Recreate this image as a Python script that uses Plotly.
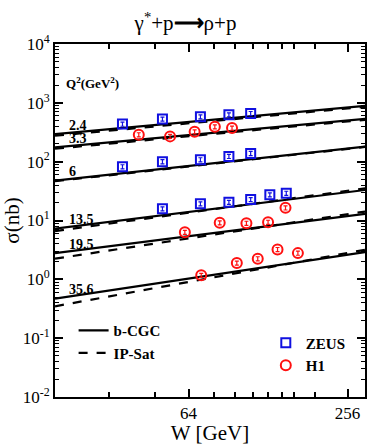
import math
import plotly.graph_objects as go

# Q^2 values (GeV^2) for the curves
q2_labels = ['2.4', '3.3', '6', '13.5', '19.5', '35.6']

# model curves, read at the left / right edges of the plot
w_line = [20, 298]
bcgc = {
    '2.4': [294, 889],
    '3.3': [175, 535],
    '6': [47.6, 180],
    '13.5': [7.3, 33],
    '19.5': [2.79, 13.0],
    '35.6': [0.471, 2.90],
}
ipsat = {
    '2.4': [276, 855],
    '3.3': [166, 515],
    '6': [46.5, 178],
    '13.5': [6.6, 35.2],
    '19.5': [2.24, 14.2],
    '35.6': [0.348, 3.18],
}

# ZEUS data
zeus_w = {
    '2.4': [36, 51, 71, 91, 110],
    '6': [36, 51, 71, 91, 110],
    '13.5': [51, 71, 91, 110, 130, 150],
}
zeus_sigma = {
    '2.4': [435, 530, 580, 627, 659],
    '6': [82, 100, 108, 123, 138],
    '13.5': [15.8, 19.2, 20.4, 22.7, 27.3, 29.1],
}

# H1 data
h1_w = {
    '3.3': [41.5, 54.5, 67.5, 80.5, 93.5],
    '19.5': [62, 84, 106, 128, 149],
    '35.6': [71.5, 97.5, 117, 139, 166],
}
h1_sigma = {
    '3.3': [287, 269, 322, 392, 372],
    '19.5': [6.3, 9.15, 9.0, 9.35, 16.4],
    '35.6': [1.17, 1.89, 2.24, 3.22, 2.79],
}

serif = 'Liberation Serif'
fig = go.Figure()

for i, q in enumerate(q2_labels):
    fig.add_trace(go.Scatter(
        x=w_line, y=ipsat[q], mode='lines',
        line=dict(color='black', width=2.2, dash='dash'),
        name='IP-Sat', legend='legend', showlegend=(i == 0),
        legendrank=2,
    ))
    fig.add_trace(go.Scatter(
        x=w_line, y=bcgc[q], mode='lines',
        line=dict(color='black', width=2.2),
        name='b-CGC', legend='legend', showlegend=(i == 0),
        legendrank=1,
    ))

for i, q in enumerate(zeus_w):
    fig.add_trace(go.Scatter(
        x=zeus_w[q], y=zeus_sigma[q], mode='markers',
        marker=dict(symbol='square-open', size=9, color='#1010e0',
                    line=dict(width=2)),
        error_y=dict(type='percent', value=8, color='#1010e0',
                     thickness=1.2, width=2),
        name='ZEUS', legend='legend2', showlegend=(i == 0),
        legendrank=1,
    ))

for i, q in enumerate(h1_w):
    fig.add_trace(go.Scatter(
        x=h1_w[q], y=h1_sigma[q], mode='markers',
        marker=dict(symbol='circle-open', size=10, color='#ff1010',
                    line=dict(width=2)),
        error_y=dict(type='percent', value=8, color='#ff1010',
                     thickness=1.2, width=2),
        name='H1', legend='legend2', showlegend=(i == 0),
        legendrank=2,
    ))

# Q^2 labels just above each curve at the left edge
for q in q2_labels:
    fig.add_annotation(
        x=0.04, xref='paper', xanchor='left',
        y=math.log10(bcgc[q][0]) + 0.15, yref='y', yanchor='middle',
        text=q, showarrow=False,
        font=dict(family=serif, size=14, color='black', weight='bold'),
    )

fig.add_annotation(
    x=0.03, xref='paper', xanchor='left',
    y=0.89, yref='paper', yanchor='middle',
    text='Q<sup>2</sup>(GeV<sup>2</sup>)', showarrow=False,
    font=dict(family=serif, size=13, color='black', weight='bold'),
)

ytick_vals = [10.0 ** k for k in range(-2, 5)]
ytick_text = ['10<sup>%d</sup>' % k for k in range(-2, 5)]
y_minor = [m * 10.0 ** k for k in range(-2, 4) for m in range(2, 10)]

fig.update_layout(
    width=371, height=445,
    margin=dict(l=52, r=4, t=44, b=48),
    plot_bgcolor='white', paper_bgcolor='white',
    font=dict(family=serif, color='black'),
    title=dict(text='γ<sup>*</sup>+p<b>⟶</b>ρ+p', x=0.5, xanchor='center',
               y=0.948, yanchor='middle',
               font=dict(family=serif, size=21, color='black')),
    xaxis=dict(
        type='log', range=[1.301, 2.474],
        tickvals=[64, 256], ticktext=['64', '256'],
        ticks='inside', ticklen=8, tickwidth=1.5, tickcolor='black',
        minor=dict(tickvals=[32, 48, 80, 96, 112, 128, 144, 160, 192],
                   ticks='inside', ticklen=5, tickwidth=1.5,
                   tickcolor='black', showgrid=False),
        showline=True, linecolor='black', linewidth=2, mirror='allticks',
        showgrid=False, zeroline=False,
        tickfont=dict(family=serif, size=17),
        title=dict(text='W [GeV]', font=dict(family=serif, size=21),
                   standoff=2),
    ),
    yaxis=dict(
        type='log', range=[-2, 4],
        tickvals=ytick_vals, ticktext=ytick_text,
        ticks='inside', ticklen=8, tickwidth=2, tickcolor='black',
        minor=dict(tickvals=y_minor, ticks='inside', ticklen=4,
                   tickwidth=1.2, tickcolor='black', showgrid=False),
        showline=True, linecolor='black', linewidth=2, mirror='allticks',
        showgrid=False, zeroline=False,
        tickfont=dict(family=serif, size=17),
        title=dict(text='σ(nb)', font=dict(family=serif, size=21),
                   standoff=4),
    ),
    legend=dict(
        x=0.06, y=0.235, xanchor='left', yanchor='top',
        bgcolor='rgba(0,0,0,0)', borderwidth=0,
        font=dict(family=serif, size=15, color='black', weight='bold'),
        itemwidth=30, tracegroupgap=0,
    ),
    legend2=dict(
        x=0.68, y=0.2, xanchor='left', yanchor='top',
        bgcolor='rgba(0,0,0,0)', borderwidth=0,
        font=dict(family=serif, size=15, color='black', weight='bold'),
        itemwidth=30, tracegroupgap=0,
    ),
)

fig.write_html('out.html', config={'displayModeBar': False},
               post_script="document.body.style.margin='0px';")
